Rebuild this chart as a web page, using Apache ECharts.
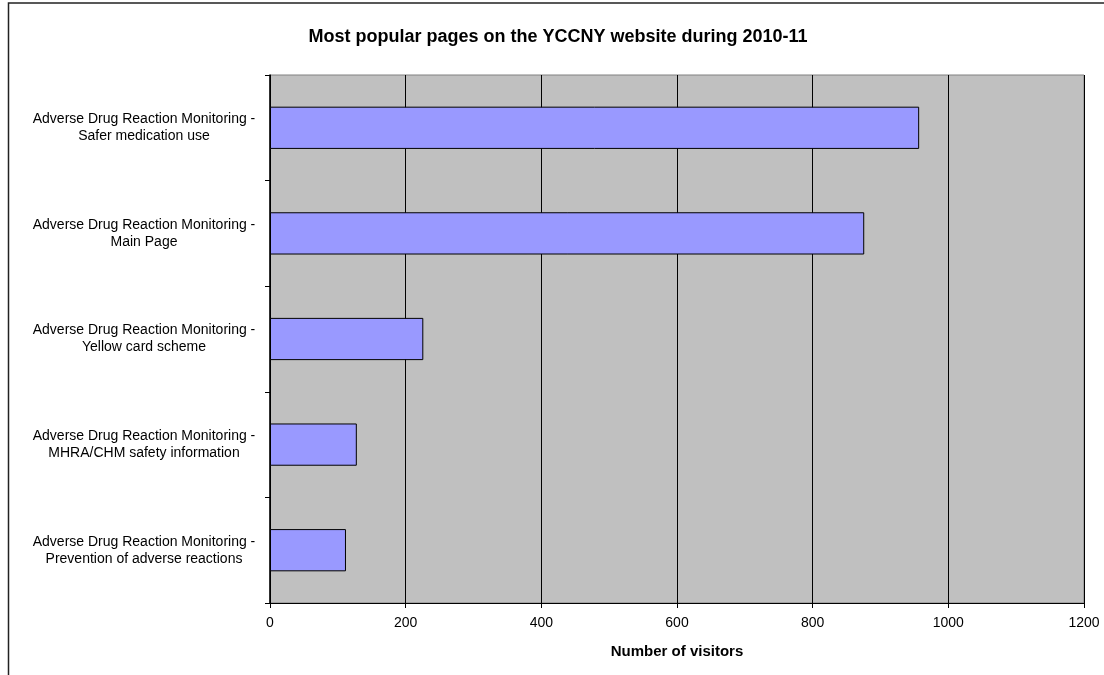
<!DOCTYPE html>
<html>
<head>
<meta charset="utf-8">
<script src="https://cdn.jsdelivr.net/npm/echarts@6/dist/echarts.min.js"></script>
<style>
  html, body { margin: 0; padding: 0; background: #ffffff; }
  #chart { width: 1104px; height: 675px; }
</style>
</head>
<body>
<div id="chart"></div>
<script>
// Page names (top to bottom) and their visitor counts for 2010-11
const pages = [
  'Adverse Drug Reaction Monitoring -\nSafer medication use',
  'Adverse Drug Reaction Monitoring -\nMain Page',
  'Adverse Drug Reaction Monitoring -\nYellow card scheme',
  'Adverse Drug Reaction Monitoring -\nMHRA/CHM safety information',
  'Adverse Drug Reaction Monitoring -\nPrevention of adverse reactions'
];
const visitors = [957, 876, 226, 128, 112];

const titleText = 'Most popular pages on the YCCNY website during 2010-11';
const xAxisTitle = 'Number of visitors';

const FONT = 'Arial, "Liberation Sans", Helvetica, sans-serif';

const chart = echarts.init(document.getElementById('chart'), null, { renderer: 'canvas' });

chart.setOption({
  backgroundColor: '#ffffff',
  animation: false,
  graphic: [
    {
      // chart-area frame
      type: 'rect',
      shape: { x: 8.5, y: 3, width: 1200, height: 800 },
      style: { fill: 'none', stroke: '#222222', lineWidth: 1.5 },
      silent: true,
      z: 100
    },
    {
      // chart title
      type: 'text',
      x: 558,
      y: 37,
      style: {
        text: titleText,
        fontFamily: FONT,
        fontSize: 18,
        fontWeight: 'bold',
        fill: '#000000',
        textAlign: 'center',
        textVerticalAlign: 'middle'
      },
      silent: true
    }
  ],
  grid: {
    left: 270,
    right: 20,
    top: 75,
    bottom: 72,
    show: true,
    backgroundColor: '#C0C0C0',
    borderColor: '#808080',
    borderWidth: 1
  },
  xAxis: {
    type: 'value',
    min: 0,
    max: 1200,
    interval: 200,
    name: xAxisTitle,
    nameLocation: 'middle',
    nameGap: 41,
    nameTextStyle: { fontFamily: FONT, fontSize: 15, fontWeight: 'bold', color: '#000000' },
    axisLine: { show: true, lineStyle: { color: '#000000', width: 1 } },
    axisTick: { show: true, length: 5, lineStyle: { color: '#000000' } },
    axisLabel: {
      fontFamily: FONT,
      fontSize: 14,
      color: '#000000',
      margin: 13,
      formatter: (v) => String(v)
    },
    splitLine: { show: true, lineStyle: { color: '#000000', width: 1 } }
  },
  yAxis: {
    type: 'category',
    data: pages,
    inverse: true,
    axisLine: { show: true, lineStyle: { color: '#000000', width: 1.5 } },
    axisTick: { show: true, length: 5, lineStyle: { color: '#000000' } },
    axisLabel: {
      fontFamily: FONT,
      fontSize: 14,
      color: '#000000',
      align: 'center',
      margin: 126,
      lineHeight: 17
    },
    splitLine: { show: false }
  },
  series: [
    {
      type: 'bar',
      data: visitors,
      barWidth: '40%',
      itemStyle: { color: '#9999FF', borderColor: '#000000', borderWidth: 1 }
    }
  ]
});
</script>
</body>
</html>
